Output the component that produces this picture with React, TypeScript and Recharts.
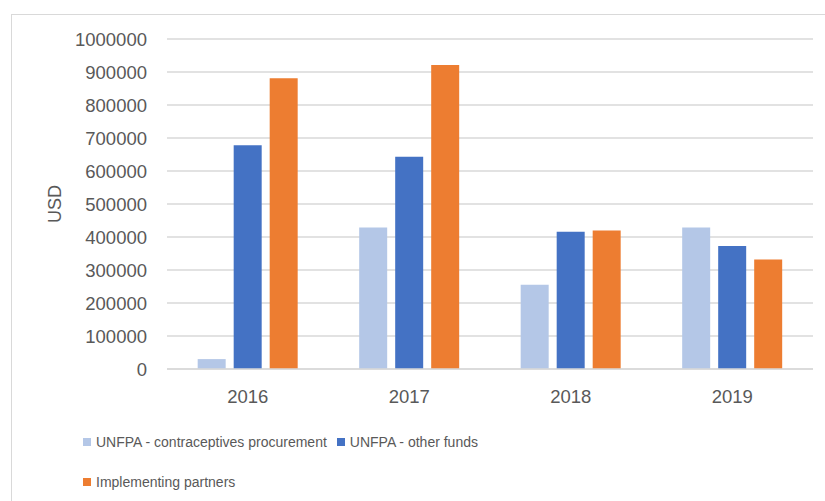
import { BarChart, Bar, XAxis, YAxis, CartesianGrid, Legend } from "recharts";

const years = ["2016", "2017", "2018", "2019"];
const contraceptives = [30000, 429000, 255000, 429000];
const otherFunds = [678000, 643000, 416000, 373000];
const partners = [881000, 921000, 420000, 332000];
const yTicks = [0, 100000, 200000, 300000, 400000, 500000, 600000, 700000, 800000, 900000, 1000000];
const seriesOrder = ["contraceptives", "otherFunds", "partners"];

const data = years.map((year, i) => ({
  year,
  contraceptives: contraceptives[i],
  otherFunds: otherFunds[i],
  partners: partners[i],
}));

const textColor = "#595959";
const axisFont = "'Liberation Sans', Arial, sans-serif";

// eslint-disable-next-line @typescript-eslint/no-explicit-any
function LegendContent({ payload }: any) {
  const items = [...(payload || [])].sort(
    (a: any, b: any) => seriesOrder.indexOf(a.dataKey) - seriesOrder.indexOf(b.dataKey)
  );
  return (
    <div style={{ display: "flex", flexWrap: "wrap", columnGap: 10, rowGap: 19 }}>
      {items.map((p: any) => (
        <div key={p.value} style={{ display: "flex", alignItems: "center", height: 21 }}>
          <span style={{ width: 8, height: 8, background: p.color, display: "inline-block", marginRight: 5 }} />
          <span style={{ fontFamily: axisFont, fontSize: 14, color: textColor, whiteSpace: "nowrap" }}>{p.value}</span>
        </div>
      ))}
    </div>
  );
}

// eslint-disable-next-line @typescript-eslint/no-explicit-any
function UsdLabel({ viewBox }: any) {
  const x = viewBox.x + 55;
  const y = viewBox.y + viewBox.height / 2;
  return (
    <text
      x={x}
      y={y}
      transform={`rotate(-90, ${x}, ${y})`}
      textAnchor="middle"
      dominantBaseline="central"
      fill={textColor}
      fontFamily={axisFont}
      fontSize={18}
    >
      USD
    </text>
  );
}

export default function App() {
  return (
    <div style={{ position: "absolute", left: 0, top: 0, width: 825, height: 501, overflow: "hidden", background: "#fff" }}>
      <div style={{ position: "absolute", left: 11, top: 14, width: 900, height: 600, border: "1px solid #d9d9d9" }} />
      <BarChart
        width={825}
        height={501}
        data={data}
        margin={{ top: 39, right: 12, left: 0, bottom: 92 }}
        barCategoryGap="19%"
        barGap={8}
        style={{ position: "absolute", left: 0, top: 0 }}
      >
        <CartesianGrid vertical={false} stroke="#d9d9d9" strokeWidth={1.5} />
        <XAxis
          dataKey="year"
          height={40}
          tickSize={0}
          tickMargin={21}
          axisLine={{ stroke: "#d9d9d9", strokeWidth: 1.5 }}
          tick={{ fill: textColor, fontSize: 18.5, fontFamily: axisFont }}
        />
        <YAxis
          width={167}
          domain={[0, 1000000]}
          ticks={yTicks}
          interval={0}
          tickSize={0}
          tickMargin={20}
          axisLine={false}
          tick={{ fill: textColor, fontSize: 18.5, fontFamily: axisFont }}
          label={{ content: UsdLabel }}
        />
        <Legend
          layout="vertical"
          align="center"
          verticalAlign="middle"
          content={LegendContent}
          wrapperStyle={{ position: "absolute", left: 83, top: 431, width: 470 }}
        />
        <Bar dataKey="contraceptives" name="UNFPA - contraceptives procurement" fill="#b4c7e7" isAnimationActive={false} />
        <Bar dataKey="otherFunds" name="UNFPA - other funds" fill="#4472c4" isAnimationActive={false} />
        <Bar dataKey="partners" name="Implementing partners" fill="#ed7d31" isAnimationActive={false} />
      </BarChart>
    </div>
  );
}
